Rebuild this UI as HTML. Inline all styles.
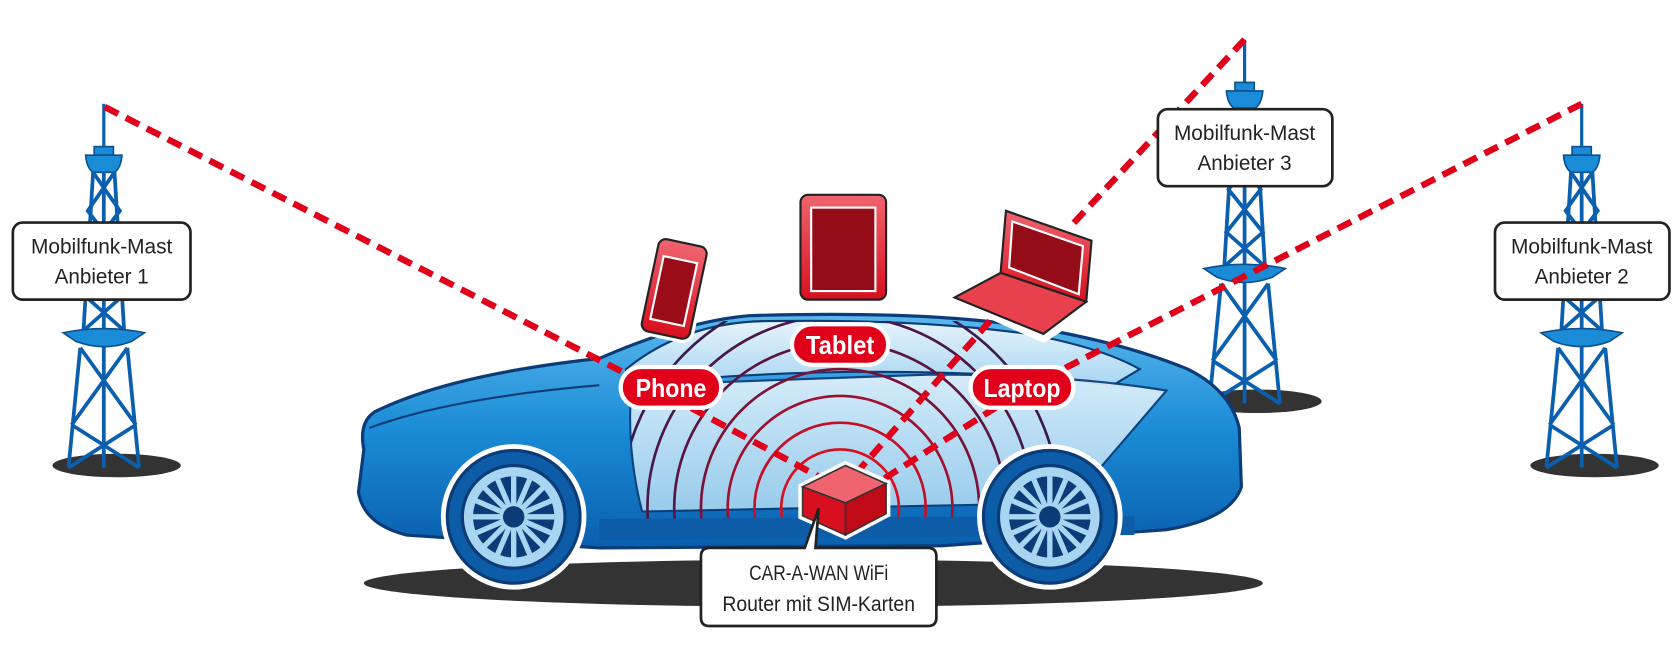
<!DOCTYPE html>
<html><head><meta charset="utf-8">
<style>
html,body{margin:0;padding:0;background:#fff;width:1678px;height:664px;overflow:hidden;}
svg{display:block;}
text{font-family:"Liberation Sans Narrow","Liberation Sans",sans-serif;}
</style></head><body>
<svg width="1678" height="664" viewBox="0 0 1568 620.5" preserveAspectRatio="none" xmlns="http://www.w3.org/2000/svg">
<defs>
<linearGradient id="body" x1="0" y1="0" x2="0" y2="1">
<stop offset="0" stop-color="#5ab8ec"/><stop offset="0.5" stop-color="#1a8bd6"/><stop offset="1" stop-color="#0a5fae"/>
</linearGradient>
<linearGradient id="glass" x1="0" y1="0" x2="0" y2="1">
<stop offset="0" stop-color="#e6f4fc"/><stop offset="1" stop-color="#a8d6f2"/>
</linearGradient>
<linearGradient id="red" x1="0" y1="0" x2="0" y2="1">
<stop offset="0" stop-color="#f06470"/><stop offset="1" stop-color="#d80f1e"/>
</linearGradient>
<clipPath id="door"><path d="M588 300 L1070 300 L1070 400 L1000 495 L600 495 Q585 420 588 300Z"/></clipPath>
<g id="tower">
<ellipse cx="12" cy="338" rx="60" ry="11" fill="#333"/>
<line x1="0" y1="0" x2="0" y2="42" stroke="#0a5fae" stroke-width="3"/>
<rect x="-9" y="40" width="18" height="8" fill="#1a8bd6" stroke="#0a4f8e" stroke-width="1.5"/>
<path d="M-17 48 H17 Q16 60 10 64 H-10 Q-16 60 -17 48Z" fill="#1a8bd6" stroke="#0a4f8e" stroke-width="1.5"/>
<g fill="none" stroke="#0a5fae" stroke-width="3.5">
<path d="M-10 64 L-19 212 M10 64 L19 212 M0 64 V340"/>
<path d="M-10 64 L15 100 L-15 140 L17 180 L-19 212 M10 64 L-15 100 L15 140 L-17 180 L19 212"/>
<path d="M-22 228 L-33 340 M22 228 L33 340"/>
<path d="M-22 228 L30 300 M22 228 L-30 300 M-30 300 L33 340 M30 300 L-33 340"/>
</g>
<path d="M-38 214 Q0 206 38 214 L26 222 Q0 232 -26 222Z" fill="#1a8bd6" stroke="#0a4f8e" stroke-width="1.5"/>
</g>
</defs>

<use href="#tower" x="97" y="97"/>
<use href="#tower" x="1163" y="37"/>
<use href="#tower" x="1478" y="97"/>

<ellipse cx="760" cy="545" rx="420" ry="22" fill="#333"/>

<path d="M340 420 Q335 395 350 385 Q420 350 560 335 Q640 300 700 295 Q860 290 960 305 Q1050 320 1110 345 Q1150 365 1158 400 L1160 455 Q1150 485 1090 495 L880 510 L560 512 L380 500 Q340 490 335 460Z" fill="url(#body)" stroke="#0b3c78" stroke-width="3"/>
<path d="M585 345 Q640 300 720 300 Q860 298 960 312 Q1030 325 1065 345 L1040 360 Q960 350 870 348 Q720 345 585 360Z" fill="url(#glass)" stroke="#0b3c78" stroke-width="2"/>
<path d="M590 360 L870 350 Q1000 350 1090 365 L1060 400 L1000 470 L600 478 Q585 420 590 360Z" fill="url(#glass)" stroke="#0b3c78" stroke-width="2" opacity="0.9"/>
<path d="M345 400 Q420 372 560 360" fill="none" stroke="#0b3c78" stroke-width="2"/>
<g fill="none" stroke-width="2.5" clip-path="url(#door)">
<circle cx="785" cy="475" r="30" stroke="#d80f1e"/>
<circle cx="785" cy="475" r="55" stroke="#d80f1e"/>
<circle cx="785" cy="475" r="80" stroke="#c40f28"/>
<circle cx="785" cy="475" r="105" stroke="#a01030"/>
<circle cx="785" cy="475" r="130" stroke="#7a1238"/>
<circle cx="785" cy="475" r="155" stroke="#5a1540"/>
<circle cx="785" cy="475" r="180" stroke="#4a1848"/>
<circle cx="785" cy="475" r="205" stroke="#3a1a50"/>
</g>
<path d="M560 485 L1060 482 L1060 500 L560 505Z" fill="#0d5ca8"/>
<g>
<circle cx="480" cy="483" r="68" fill="#fff"/>
<circle cx="480" cy="483" r="62" fill="#0d5ca8" stroke="#0b3c78" stroke-width="3"/>
<circle cx="480" cy="483" r="48" fill="#a8d6f2" stroke="#0b3c78" stroke-width="3"/>
<circle cx="480" cy="483" r="38" fill="#0b3c78"/>
<g stroke="#a8d6f2" stroke-width="5">
<path d="M480 445V521M442 483H518M453 456L507 510M507 456L453 510M465 448L495 518M495 448L465 518M445 468L515 498M515 468L445 498"/>
</g>
<circle cx="480" cy="483" r="10" fill="#0b3c78"/>
</g>
<g>
<circle cx="981" cy="483" r="68" fill="#fff"/>
<circle cx="981" cy="483" r="62" fill="#0d5ca8" stroke="#0b3c78" stroke-width="3"/>
<circle cx="981" cy="483" r="48" fill="#a8d6f2" stroke="#0b3c78" stroke-width="3"/>
<circle cx="981" cy="483" r="38" fill="#0b3c78"/>
<g stroke="#a8d6f2" stroke-width="5">
<path d="M981 445V521M943 483H1019M954 456L1008 510M1008 456L954 510M966 448L996 518M996 448L966 518M946 468L1016 498M1016 468L946 498"/>
</g>
<circle cx="981" cy="483" r="10" fill="#0b3c78"/>
</g>

<g stroke="#e0001a" stroke-width="6" stroke-dasharray="14 8" fill="none">
<path d="M98 100 L610 362 L770 448"/>
<path d="M1163 37 L1000 212"/>
<path d="M925 300 L795 448"/>
<path d="M1478 97 L960 362 L825 448"/>
</g>

<path d="M750 455 L790 435 L828 452 L828 480 L790 500 L750 482Z" fill="#fff" stroke="#fff" stroke-width="8"/>
<path d="M750 455 L790 435 L828 452 L790 470Z" fill="#f06470" stroke="#333" stroke-width="1.5"/>
<path d="M750 455 L790 470 L790 500 L750 482Z" fill="#d80f1e" stroke="#333" stroke-width="1.5"/>
<path d="M790 470 L828 452 L828 480 L790 500Z" fill="#c00a18" stroke="#333" stroke-width="1.5"/>

<g transform="rotate(12 630 270)">
<rect x="607" y="226" width="46" height="88" rx="7" fill="url(#red)" stroke="#fff" stroke-width="8"/>
<rect x="607" y="226" width="46" height="88" rx="7" fill="url(#red)" stroke="#222" stroke-width="2"/>
<rect x="614" y="242" width="32" height="60" fill="#9a0c18" stroke="#fff" stroke-width="2"/>
</g>
<rect x="748" y="182" width="80" height="98" rx="7" fill="url(#red)" stroke="#fff" stroke-width="8"/>
<rect x="748" y="182" width="80" height="98" rx="7" fill="url(#red)" stroke="#222" stroke-width="2"/>
<rect x="758" y="194" width="60" height="78" fill="#950c18" stroke="#fff" stroke-width="2"/>
<g>
<path d="M940 197 L1020 225 L1020 285 L975 315 L892 278 L935 255Z" fill="#fff" stroke="#fff" stroke-width="10" stroke-linejoin="round"/>
<path d="M940 197 L1020 225 L1015 282 L935 255Z" fill="url(#red)" stroke="#222" stroke-width="2"/>
<path d="M946 207 L1012 230 L1008 275 L943 250Z" fill="#950c18" stroke="#fff" stroke-width="2"/>
<path d="M935 255 L1015 282 L975 312 L892 278Z" fill="#e9404e" stroke="#222" stroke-width="2"/>
</g>

<g font-weight="bold" font-size="24" fill="#fff" text-anchor="middle">
<rect x="580" y="343" width="94" height="38" rx="19" fill="#e0001a" stroke="#fff" stroke-width="4"/>
<text x="627" y="371" textLength="66" lengthAdjust="spacingAndGlyphs">Phone</text>
<rect x="740" y="303" width="90" height="38" rx="19" fill="#e0001a" stroke="#fff" stroke-width="4"/>
<text x="785" y="331" textLength="64" lengthAdjust="spacingAndGlyphs">Tablet</text>
<rect x="907" y="343" width="96" height="38" rx="19" fill="#e0001a" stroke="#fff" stroke-width="4"/>
<text x="955" y="371" textLength="72" lengthAdjust="spacingAndGlyphs">Laptop</text>
</g>

<g font-size="20" fill="#222" text-anchor="middle">
<rect x="12" y="208" width="166" height="72" rx="9" fill="#fff" stroke="#222" stroke-width="2.5"/>
<text x="95" y="237" textLength="132" lengthAdjust="spacingAndGlyphs">Mobilfunk-Mast</text><text x="95" y="265" textLength="88" lengthAdjust="spacingAndGlyphs">Anbieter 1</text>
<rect x="1082" y="102" width="163" height="72" rx="9" fill="#fff" stroke="#222" stroke-width="2.5"/>
<text x="1163" y="131" textLength="132" lengthAdjust="spacingAndGlyphs">Mobilfunk-Mast</text><text x="1163" y="159" textLength="88" lengthAdjust="spacingAndGlyphs">Anbieter 3</text>
<rect x="1397" y="208" width="163" height="72" rx="9" fill="#fff" stroke="#222" stroke-width="2.5"/>
<text x="1478" y="237" textLength="132" lengthAdjust="spacingAndGlyphs">Mobilfunk-Mast</text><text x="1478" y="265" textLength="88" lengthAdjust="spacingAndGlyphs">Anbieter 2</text>
<path d="M663 512 H752 L765 475 L762 512 H867 Q875 512 875 520 V577 Q875 585 867 585 H663 Q655 585 655 577 V520 Q655 512 663 512Z" fill="#fff" stroke="#222" stroke-width="2.5"/>
<text x="765" y="542" textLength="130" lengthAdjust="spacingAndGlyphs">CAR-A-WAN  WiFi</text><text x="765" y="571" textLength="180" lengthAdjust="spacingAndGlyphs">Router mit SIM-Karten</text>
</g>
</svg>
</body></html>
